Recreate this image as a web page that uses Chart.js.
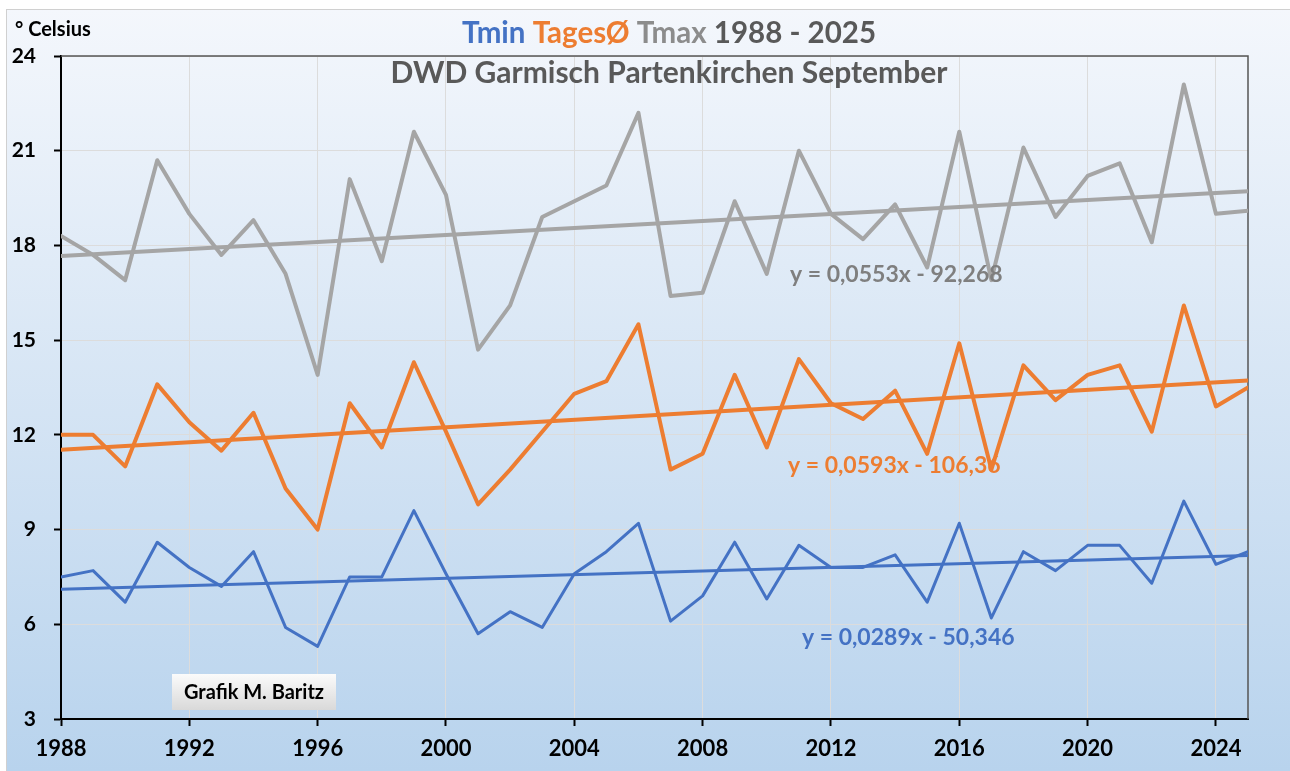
<!DOCTYPE html>
<html>
<head>
<meta charset="utf-8">
<script src="https://cdn.jsdelivr.net/npm/chart.js@4/dist/chart.umd.min.js"></script>
<style>
  html, body { margin: 0; padding: 0; background: #fff; }
  #wrap { width: 1290px; height: 771px; }
</style>
</head>
<body>
<div id="wrap"><canvas id="chart" width="1290" height="771"></canvas></div>
<script>
// Jahre und Monatswerte September (DWD Garmisch-Partenkirchen)
var years = [1988, 1989, 1990, 1991, 1992, 1993, 1994, 1995, 1996, 1997,
             1998, 1999, 2000, 2001, 2002, 2003, 2004, 2005, 2006, 2007,
             2008, 2009, 2010, 2011, 2012, 2013, 2014, 2015, 2016, 2017,
             2018, 2019, 2020, 2021, 2022, 2023, 2024, 2025];

var tmax = [18.3, 17.7, 16.9, 20.7, 19.0, 17.7, 18.8, 17.1, 13.9, 20.1,
            17.5, 21.6, 19.6, 14.7, 16.1, 18.9, 19.4, 19.9, 22.2, 16.4,
            16.5, 19.4, 17.1, 21.0, 19.0, 18.2, 19.3, 17.3, 21.6, 16.9,
            21.1, 18.9, 20.2, 20.6, 18.1, 23.1, 19.0, 19.1];

var tmittel = [12.0, 12.0, 11.0, 13.6, 12.4, 11.5, 12.7, 10.3, 9.0, 13.0,
               11.6, 14.3, 12.1, 9.8, 10.9, 12.1, 13.3, 13.7, 15.5, 10.9,
               11.4, 13.9, 11.6, 14.4, 13.0, 12.5, 13.4, 11.4, 14.9, 10.9,
               14.2, 13.1, 13.9, 14.2, 12.1, 16.1, 12.9, 13.5];

var tmin = [7.5, 7.7, 6.7, 8.6, 7.8, 7.2, 8.3, 5.9, 5.3, 7.5,
            7.5, 9.6, 7.6, 5.7, 6.4, 5.9, 7.6, 8.3, 9.2, 6.1,
            6.9, 8.6, 6.8, 8.5, 7.8, 7.8, 8.2, 6.7, 9.2, 6.2,
            8.3, 7.7, 8.5, 8.5, 7.3, 9.9, 7.9, 8.3];

// Trendgleichungen wie im Diagramm angegeben: [Steigung, Achsenabschnitt]
var trendTmax = [0.0553, -92.268];
var trendMittel = [0.0593, -106.36];
var trendTmin = [0.0289, -50.346];

var xTicks = [1988, 1992, 1996, 2000, 2004, 2008, 2012, 2016, 2020, 2024];
var yTicks = [3, 6, 9, 12, 15, 18, 21, 24];

var BLUE = '#4472c4', ORANGE = '#ed7d31', GRAY = '#a5a5a5';
var FONT = 'Lato, "Open Sans", sans-serif';

function pts(vals) {
    return years.map(function(y, i) { return { x: y, y: vals[i] }; });
}
function trend(c) {
    var a = years[0], b = years[years.length - 1];
    return [{ x: a, y: c[0] * a + c[1] }, { x: b, y: c[0] * b + c[1] }];
}
function tickList(list) {
    return function(scale) {
        scale.ticks = list.map(function(v) { return { value: v }; });
    };
}

// Hintergrund, Rahmen und Beschriftungen
var decor = {
    id: 'decor',
    beforeDraw: function(chart) {
        var ctx = chart.ctx;
        ctx.save();
        ctx.fillStyle = '#fff';
        ctx.fillRect(0, 0, 1290, 771);
        var g = ctx.createLinearGradient(0, 9, 0, 771);
        g.addColorStop(0, '#f4f7fc');
        g.addColorStop(1, '#b8d3ed');
        ctx.fillStyle = g;
        ctx.fillRect(6, 9, 1284, 762);
        ctx.strokeStyle = '#d0d0d0';
        ctx.lineWidth = 1;
        ctx.strokeRect(6.5, 9.5, 1290, 770);
        ctx.restore();
    },
    beforeDatasetsDraw: function(chart) {
        var ctx = chart.ctx, a = chart.chartArea;
        ctx.save();
        ctx.strokeStyle = '#555';
        ctx.lineWidth = 1.5;
        ctx.beginPath();
        ctx.moveTo(a.left, a.top);
        ctx.lineTo(a.right, a.top);
        ctx.lineTo(a.right, a.bottom);
        ctx.stroke();
        ctx.restore();
    },
    afterDraw: function(chart) {
        var ctx = chart.ctx;
        ctx.save();
        ctx.textBaseline = 'alphabetic';

        // Titel in drei Farben
        ctx.font = 'bold 29.5px ' + FONT;
        var parts = [['Tmin ', BLUE], ['TagesØ ', ORANGE], ['Tmax ', '#8c8c8c'], ['1988 - 2025', '#595959']];
        var total = parts.reduce(function(s, p) { return s + ctx.measureText(p[0]).width; }, 0);
        var x = 669 - total / 2;
        parts.forEach(function(p) {
            ctx.fillStyle = p[1];
            ctx.fillText(p[0], x, 43);
            x += ctx.measureText(p[0]).width;
        });

        ctx.font = 'bold 30px ' + FONT;
        ctx.textAlign = 'center';
        ctx.fillStyle = '#595959';
        ctx.fillText('DWD Garmisch Partenkirchen September', 669, 83);

        ctx.textAlign = 'left';
        ctx.fillStyle = '#000';
        ctx.font = 'bold 20px ' + FONT;
        ctx.fillText('° Celsius', 15, 36);

        // Trendgleichungen
        ctx.font = 'bold 23px ' + FONT;
        ctx.fillStyle = '#7f7f7f';
        ctx.fillText('y = 0,0553x - 92,268', 790, 282);
        ctx.fillStyle = ORANGE;
        ctx.fillText('y = 0,0593x - 106,36', 788, 473);
        ctx.fillStyle = BLUE;
        ctx.fillText('y = 0,0289x - 50,346', 802, 645);

        // Grafik-Kasten
        var bg = ctx.createLinearGradient(0, 674, 0, 710);
        bg.addColorStop(0, '#fbfbfb');
        bg.addColorStop(1, '#d9d9d9');
        ctx.fillStyle = bg;
        ctx.fillRect(172, 674, 164, 36);
        ctx.fillStyle = '#000';
        ctx.font = 'bold 20px ' + FONT;
        ctx.textAlign = 'center';
        ctx.fillText('Grafik M. Baritz', 254, 699);
        ctx.restore();
    }
};

var ctx = document.getElementById('chart').getContext('2d');
new Chart(ctx, {
    type: 'line',
    data: {
        datasets: [
            { data: pts(tmax), borderColor: GRAY, borderWidth: 4, order: 3 },
            { data: trend(trendTmax), borderColor: GRAY, borderWidth: 4, order: 2 },
            { data: pts(tmittel), borderColor: ORANGE, borderWidth: 4, order: 3 },
            { data: trend(trendMittel), borderColor: ORANGE, borderWidth: 4, order: 2 },
            { data: pts(tmin), borderColor: BLUE, borderWidth: 3, order: 3 },
            { data: trend(trendTmin), borderColor: BLUE, borderWidth: 3, order: 2 }
        ]
    },
    options: {
        responsive: false,
        animation: false,
        devicePixelRatio: 1,
        layout: { padding: { top: 56, right: 42, left: 0, bottom: 0 } },
        elements: {
            point: { radius: 0, hoverRadius: 0 },
            line: { tension: 0, fill: false, borderJoinStyle: 'round', borderCapStyle: 'round' }
        },
        plugins: {
            legend: { display: false },
            title: { display: false },
            tooltip: { enabled: false }
        },
        scales: {
            x: {
                type: 'linear',
                min: 1988,
                max: 2025,
                afterBuildTicks: tickList(xTicks),
                afterFit: function(s) { s.height = 52; },
                border: { color: '#000', width: 2 },
                grid: { color: '#dcdcdc', lineWidth: 1, tickColor: '#000', tickWidth: 2, tickLength: 7 },
                ticks: {
                    color: '#000',
                    padding: 10,
                    maxRotation: 0,
                    font: { family: FONT, size: 22, weight: 'bold' },
                    callback: function(v) { return String(v); }
                }
            },
            y: {
                min: 3,
                max: 24,
                afterBuildTicks: tickList(yTicks),
                afterFit: function(s) { s.width = 61; },
                border: { color: '#000', width: 2 },
                grid: { color: '#dcdcdc', lineWidth: 1, tickColor: '#000', tickWidth: 2, tickLength: 7 },
                ticks: {
                    color: '#000',
                    padding: 18,
                    font: { family: FONT, size: 21, weight: 'bold' }
                }
            }
        }
    },
    plugins: [decor]
});
</script>
</body>
</html>
